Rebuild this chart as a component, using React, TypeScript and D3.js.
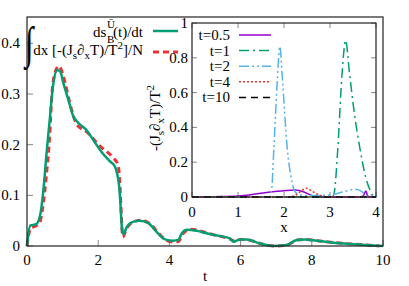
import * as d3 from "d3"

// main plot: ds/dt (green) and integral (red dashed)
const dsdt: [number, number][] = [
  [0, 0], [0.09, 0.04], [0.26, 0.043], [0.37, 0.061], [0.46, 0.11], [0.55, 0.184], [0.64, 0.25],
  [0.72, 0.31], [0.85, 0.347], [0.93, 0.345], [1.02, 0.322], [1.16, 0.289], [1.3, 0.256],
  [1.44, 0.243], [1.68, 0.228], [1.9, 0.205], [2.1, 0.185], [2.33, 0.167], [2.47, 0.157],
  [2.54, 0.14], [2.59, 0.117], [2.63, 0.078], [2.67, 0.032], [2.71, 0.024], [2.8, 0.037],
  [2.99, 0.048], [3.17, 0.05], [3.41, 0.045], [3.64, 0.028], [3.88, 0.013], [4.11, 0.0105],
  [4.25, 0.012], [4.35, 0.025], [4.49, 0.032], [4.77, 0.03], [5.1, 0.024], [5.4, 0.02],
  [5.7, 0.015], [5.8, 0.0085], [5.98, 0.013], [6.17, 0.013], [6.54, 0.005], [6.92, 0.0],
  [7.29, 0.002], [7.58, 0.012], [7.81, 0.013], [8.14, 0.0105], [8.61, 0.0065], [9.07, 0.004],
  [9.54, 0.002], [10, 0],
]
const integral: [number, number][] = [
  [0, 0], [0.1, 0.035], [0.2, 0.038], [0.35, 0.045], [0.44, 0.075], [0.55, 0.144], [0.63, 0.21],
  [0.7, 0.3], [0.8, 0.345], [0.9, 0.355], [1.0, 0.34], [1.07, 0.322], [1.21, 0.28], [1.4, 0.24],
  [1.68, 0.225], [2.05, 0.197], [2.42, 0.174], [2.56, 0.16], [2.61, 0.12], [2.65, 0.06],
  [2.69, 0.018], [2.8, 0.035], [3.0, 0.048], [3.2, 0.051], [3.45, 0.044], [3.7, 0.025],
  [3.9, 0.012], [4.1, 0.008], [4.25, 0.009], [4.4, 0.026], [4.6, 0.033], [4.85, 0.03],
  [5.2, 0.023], [5.5, 0.018], [5.72, 0.013], [5.82, 0.01], [6.0, 0.013], [6.2, 0.012],
  [6.6, 0.004], [6.95, 0.0], [7.3, 0.002], [7.6, 0.012], [7.85, 0.013], [8.2, 0.01],
  [8.6, 0.007], [9.1, 0.004], [9.55, 0.002], [9.9, 0],
]
const mainXTicks = [0, 2, 4, 6, 8, 10]
const mainYTicks = [0, 0.1, 0.2, 0.3, 0.4]

// inset: -(Js dxT)/T^2 vs x
const t05: [number, number][] = [
  [0, 0], [0.5, 0.002], [1.0, 0.006], [1.2, 0.01], [1.5, 0.022], [1.8, 0.032], [2.05, 0.038],
  [2.25, 0.04], [2.42, 0.03], [2.55, 0.015], [2.65, 0.003], [2.8, 0], [3.6, 0], [3.72, 0.005],
  [3.78, 0.035], [3.82, 0.005], [3.9, 0], [4, 0],
]
const t1: [number, number][] = [
  [0, 0], [3.05, 0], [3.1, 0.04], [3.17, 0.28], [3.26, 0.7], [3.34, 0.9], [3.42, 0.72],
  [3.53, 0.48], [3.65, 0.28], [3.77, 0.12], [3.87, 0.04], [3.93, 0.01], [4, 0],
]
const t2: [number, number][] = [
  [0, 0], [1.68, 0], [1.73, 0.04], [1.78, 0.28], [1.85, 0.65], [1.91, 0.865], [1.96, 0.7],
  [2.07, 0.28], [2.15, 0.12], [2.24, 0.03], [2.35, 0.012], [2.6, 0.008], [3.0, 0.012],
  [3.3, 0.03], [3.55, 0.045], [3.7, 0.03], [3.8, 0.005], [3.9, 0.01], [4, 0],
]
const t4: [number, number][] = [
  [0, 0], [2.1, 0], [2.25, 0.01], [2.35, 0.03], [2.49, 0.05], [2.6, 0.035], [2.71, 0.018],
  [2.85, 0.004], [3.0, 0], [4, 0],
]
const t10: [number, number][] = [[0, 0], [1, 0], [2, 0], [3, 0], [4, 0]]
const insetXTicks = [0, 1, 2, 3, 4]
const insetYTicks = [0, 0.2, 0.4, 0.6, 0.8, 1]

const insetSeries = [
  { label: "t=0.5", data: t05, color: "#9400d3", dash: "none" },
  { label: "t=1", data: t1, color: "#009e73", dash: "10,4,2,4" },
  { label: "t=2", data: t2, color: "#56b4e9", dash: "10,3,2,3,2,3" },
  { label: "t=4", data: t4, color: "#f03030", dash: "2,2" },
  { label: "t=10", data: t10, color: "#000000", dash: "7,5" },
]

const FONT = "'Liberation Serif', 'DejaVu Serif', serif"

export default function App() {
  const width = 409
  const height = 286
  const x = d3.scaleLinear().domain([0, 10]).range([27, 383])
  const y = d3.scaleLinear().domain([0, 0.45]).range([246, 18])
  const xi = d3.scaleLinear().domain([0, 4]).range([192, 376])
  const yi = d3.scaleLinear().domain([0, 1]).range([197, 23])

  const mainLine = d3.line<[number, number]>()
    .x(d => x(d[0])).y(d => y(d[1])).curve(d3.curveMonotoneX)
  const insetLine = d3.line<[number, number]>()
    .x(d => xi(d[0])).y(d => yi(d[1])).curve(d3.curveMonotoneX)

  return (
    <svg width={width} height={height} style={{ position: "absolute", left: 0, top: 0 }}
      fontFamily={FONT} fontSize={15}>
      <rect width={width} height={height} fill="white" />
      {/* main ticks */}
      {mainYTicks.map(t => (
        <g key={"my" + t}>
          <line x1={27} x2={33} y1={y(t)} y2={y(t)} stroke="#888" />
          <text x={20} y={y(t) + 5} textAnchor="end">{t}</text>
        </g>
      ))}
      {mainXTicks.map(t => (
        <g key={"mx" + t}>
          <line x1={x(t)} x2={x(t)} y1={246} y2={240} stroke="#888" />
          <text x={x(t)} y={265} textAnchor="middle">{t}</text>
        </g>
      ))}
      <text x={205} y={281} textAnchor="middle">t</text>
      <path d={mainLine(integral) ?? ""} fill="none" stroke="#f03030" strokeWidth={3} strokeDasharray="6,4" />
      <path d={mainLine(dsdt) ?? ""} fill="none" stroke="#009e73" strokeWidth={2.5} />
      <rect x={27} y={17} width={356} height={229} fill="none" stroke="#222" strokeWidth={1.2} />

      {/* main legend */}
      <text x={93} y={37}>ds</text>
      <text x={107} y={43} fontSize={11}>B</text>
      <text x={107} y={28} fontSize={11}>Ū</text>
      <text x={143} y={37} textAnchor="end">(t)/dt</text>
      <line x1={153} x2={178} y1={31} y2={31} stroke="#009e73" strokeWidth={2.5} />
      <text x={25} y={56} fontSize={30} transform="translate(0,-26) scale(1,1.5)" >∫</text>
      <text x={143} y={55} textAnchor="end">
        dx [-(J<tspan dy={4} fontSize={11}>s</tspan><tspan dy={-4}>∂</tspan>
        <tspan dy={4} fontSize={11}>x</tspan><tspan dy={-4}>T)/T</tspan>
        <tspan dy={-6} fontSize={11}>2</tspan><tspan dy={6}>]/N</tspan>
      </text>
      <line x1={153} x2={178} y1={52} y2={52} stroke="#f03030" strokeWidth={3} strokeDasharray="6,4" />

      {/* inset */}
      <rect x={192} y={23} width={184} height={174} fill="white" />
      {insetYTicks.map(t => (
        <g key={"iy" + t}>
          <line x1={192} x2={197} y1={yi(t)} y2={yi(t)} stroke="#888" />
          <line x1={376} x2={371} y1={yi(t)} y2={yi(t)} stroke="#888" />
          <text x={188} y={yi(t) + 5} textAnchor="end">{t}</text>
        </g>
      ))}
      {insetXTicks.map(t => (
        <g key={"ix" + t}>
          <line x1={xi(t)} x2={xi(t)} y1={197} y2={192} stroke="#888" />
          <line x1={xi(t)} x2={xi(t)} y1={23} y2={28} stroke="#888" />
          <text x={xi(t)} y={217} textAnchor="middle">{t}</text>
        </g>
      ))}
      {insetSeries.map(s => (
        <path key={s.label} d={insetLine(s.data) ?? ""} fill="none" stroke={s.color}
          strokeWidth={1.5} strokeDasharray={s.dash} />
      ))}
      <rect x={192} y={23} width={184} height={174} fill="none" stroke="#222" strokeWidth={1.2} />
      <text x={284} y={232} textAnchor="middle">x</text>
      <text transform="translate(160,118) rotate(-90)" textAnchor="middle">
        -(J<tspan dy={4} fontSize={11}>s</tspan><tspan dy={-4}>∂</tspan>
        <tspan dy={4} fontSize={11}>x</tspan><tspan dy={-4}>T)/T</tspan>
        <tspan dy={-6} fontSize={11}>2</tspan>
      </text>
      {insetSeries.map((s, i) => (
        <g key={"leg" + s.label}>
          <text x={230} y={35 + i * 15.6 + 5} textAnchor="end">{s.label}</text>
          <line x1={239} x2={271} y1={35 + i * 15.6} y2={35 + i * 15.6} stroke={s.color}
            strokeWidth={1.5} strokeDasharray={s.dash} />
        </g>
      ))}
    </svg>
  )
}
